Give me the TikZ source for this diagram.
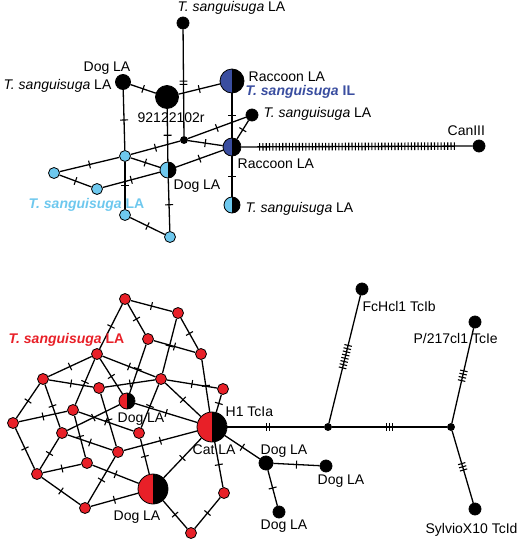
\documentclass[tikz,border=0pt]{standalone}
\usepackage{fontspec}
\setmainfont{Liberation Sans}
\usetikzlibrary{decorations.markings}
\definecolor{tsred}{RGB}{232,32,40}
\definecolor{tsblue}{RGB}{58,78,160}
\definecolor{tssky}{RGB}{110,200,238}

\begin{document}
\begin{tikzpicture}[x=1pt, y=-1pt, line width=1.3pt,
      font=\fontsize{14}{16}\selectfont,
      vertex/.style={circle, draw=black, line width=0.8pt, inner sep=0pt, minimum size=#1},
      half/.style 2 args={vertex=#1, path picture={
          \fill[#2] (path picture bounding box.south west) rectangle (path picture bounding box.north);
          \fill[black] (path picture bounding box.south) rectangle (path picture bounding box.north east);}},
      lbl/.style={inner sep=0pt, anchor=base west},
      mut/.style={postaction={decorate, decoration={markings, mark=at position #1 with {\draw[line width=1.1pt] (0pt,-4pt) -- (0pt,4pt);}}}},
      mut/.default=0.5,
      muts/.style 2 args={postaction={decorate, decoration={markings, mark=at position #1 with {\foreach \k in {1,...,#2} {\draw[line width=1.1pt] ({(\k-(#2+1)/2)*3.3pt},-3.8pt) -- ({(\k-(#2+1)/2)*3.3pt},3.8pt);}}}}}]

\useasboundingbox (0,0) rectangle (520,541);

\node[vertex=12pt, fill=black] (t1) at (183,23) {};
\node[vertex=15pt, fill=black] (dogt) at (123,82) {};
\node[vertex=23pt, fill=black] (big) at (167,97) {};
\node[half={24pt}{tsblue}] (racil) at (232,81) {};
\node[vertex=12pt, fill=black] (tsr) at (252,115) {};
\node[vertex=7pt, fill=black] (jt) at (184,140) {};
\node[half={18pt}{tsblue}] (racla) at (232,147) {};
\node[vertex=12pt, fill=black] (can) at (479,146) {};
\node[half={16pt}{tssky}] (tsb) at (232,205) {};
\node[half={16pt}{tssky}] (dogm) at (168,170) {};
\node[vertex=11pt, fill=tssky] (sa) at (125,156) {};
\node[vertex=11pt, fill=tssky] (sb) at (54,173) {};
\node[vertex=11pt, fill=tssky] (sc) at (97,189) {};
\node[vertex=11pt, fill=tssky] (sd) at (125,215) {};
\node[vertex=11pt, fill=tssky] (se) at (170,237) {};

\draw[muts={0.5}{2}] (t1) -- (jt);
\draw[mut] (dogt) -- (big);
\draw[mut] (big) -- (racil);
\draw[mut] (dogt) -- (sa);
\draw[mut] (big) -- (dogm);
\draw[mut] (racil) -- (racla);
\draw[mut] (racla) -- (tsr);
\draw[mut] (jt) -- (racla);
\draw[mut] (sa) -- (jt);
\draw[mut] (jt) -- (tsr);
\draw[muts={0.5}{60}] (racla) -- (can);
\draw[mut] (sa) -- (sb);
\draw[mut] (sb) -- (sc);
\draw[mut] (sc) -- (dogm);
\draw[mut] (sa) -- (dogm);
\draw[mut] (sa) -- (sd);
\draw[mut] (sd) -- (se);
\draw[mut] (se) -- (dogm);
\draw[mut] (dogm) -- (racla);
\draw[mut] (racla) -- (tsb);

\node[lbl] (lt1) at (177,11) {\textit{T. sanguisuga} LA};
\node[lbl] (ldogt) at (83,71) {Dog LA};
\node[lbl, anchor=base east] (ldogt2) at (112,89) {\textit{T. sanguisuga} LA};
\node[lbl] (lbig) at (137,122) {92122102r};
\node[lbl] (lracil) at (248,81) {Raccoon LA};
\node[lbl, text=tsblue] (ltsil) at (245,95) {\textbf{\textit{T. sanguisuga} IL}};
\node[lbl] (ltsr) at (263,117) {\textit{T. sanguisuga} LA};
\node[lbl] (lcan) at (447,135) {CanIII};
\node[lbl] (lracla) at (237,168) {Raccoon LA};
\node[lbl] (ltsb) at (245,212) {\textit{T. sanguisuga} LA};
\node[lbl] (ldogm) at (173,189) {Dog LA};
\node[lbl, text=tssky] (lsky) at (28,208) {\textbf{\textit{T. sanguisuga} LA}};

\node[vertex=11pt, fill=tsred] (r1) at (125,299) {};
\node[vertex=11pt, fill=tsred] (r2) at (178,313) {};
\node[vertex=11pt, fill=tsred] (r3) at (148,339) {};
\node[vertex=11pt, fill=tsred] (r4) at (201,354) {};
\node[vertex=11pt, fill=tsred] (r5) at (97,354) {};
\node[vertex=11pt, fill=tsred] (r6) at (43,379) {};
\node[vertex=11pt, fill=tsred] (r7) at (99,388) {};
\node[vertex=11pt, fill=tsred] (r8) at (161,379) {};
\node[vertex=11pt, fill=tsred] (r9) at (223,389) {};
\node[vertex=11pt, fill=tsred] (r10) at (73,410) {};
\node[vertex=11pt, fill=tsred] (r11) at (13,423) {};
\node[vertex=11pt, fill=tsred] (r12) at (62,433) {};
\node[vertex=11pt, fill=tsred] (r13) at (139,433) {};
\node[vertex=11pt, fill=tsred] (r14) at (118,452) {};
\node[vertex=11pt, fill=tsred] (r15) at (87,463) {};
\node[vertex=11pt, fill=tsred] (r16) at (37,474) {};
\node[vertex=11pt, fill=tsred] (r17) at (85,508) {};
\node[vertex=11pt, fill=tsred] (r18) at (224,493) {};
\node[vertex=11pt, fill=tsred] (r19) at (191,533) {};
\node[half={16pt}{tsred}] (dgs) at (127,401) {};
\node[half={30pt}{tsred}] (cat) at (212,427) {};
\node[half={30pt}{tsred}] (dgb) at (153,489) {};

\draw[mut] (r1) -- (r2);
\draw[mut] (r1) -- (r3);
\draw[mut] (r1) -- (r5);
\draw[mut] (r2) -- (r4);
\draw[mut] (r3) -- (r4);
\draw[mut] (r2) -- (r8);
\draw[mut] (r3) -- (dgs);
\draw[mut] (r4) -- (cat);
\draw[mut] (r5) -- (r6);
\draw[mut] (r5) -- (r8);
\draw[mut] (r5) -- (dgs);
\draw[mut] (r5) -- (r10);
\draw[mut] (r6) -- (r7);
\draw[mut] (r6) -- (r11);
\draw[mut] (r6) -- (r12);
\draw[mut] (r7) -- (r8);
\draw[mut] (r7) -- (r14);
\draw[mut] (r8) -- (r9);
\draw[mut] (r8) -- (cat);
\draw[mut] (r8) -- (r13);
\draw[mut] (r9) -- (cat);
\draw[mut] (dgs) -- (cat);
\draw[mut] (r10) -- (r11);
\draw[mut] (r10) -- (r13);
\draw[mut] (r10) -- (r15);
\draw[mut] (r11) -- (r16);
\draw[mut] (r12) -- (r14);
\draw[mut] (r12) -- (r16);
\draw[mut] (r12) -- (dgs);
\draw[mut] (r13) -- (dgb);
\draw[mut] (r14) -- (cat);
\draw[mut] (r14) -- (r17);
\draw[mut] (r15) -- (r16);
\draw[mut] (r15) -- (dgb);
\draw[mut] (r16) -- (r17);
\draw[mut] (r17) -- (dgb);
\draw[mut] (dgb) -- (cat);
\draw[mut] (dgb) -- (r19);
\draw[mut] (r19) -- (r18);
\draw[mut] (r18) -- (cat);

\node[vertex=7pt, fill=black] (j1) at (328,427) {};
\node[vertex=7pt, fill=black] (j2) at (451,427) {};
\node[vertex=12pt, fill=black] (fc) at (362,289) {};
\node[vertex=12pt, fill=black] (p217) at (475,322) {};
\node[vertex=12pt, fill=black] (syl) at (475,509) {};
\node[vertex=14pt, fill=black] (dg1) at (266,463) {};
\node[vertex=12pt, fill=black] (dg2) at (326,466) {};
\node[vertex=12pt, fill=black] (dg3) at (279,512) {};

\draw[muts={0.42}{2}] (cat) -- (j1);
\draw[muts={0.5}{3}] (j1) -- (j2);
\draw[muts={0.52}{8}] (j1) -- (fc);
\draw[muts={0.5}{4}] (j2) -- (p217);
\draw[muts={0.5}{3}] (j2) -- (syl);
\draw[mut] (cat) -- (dg1);
\draw[mut] (dg1) -- (dg2);
\draw[mut] (dg1) -- (dg3);

\node[lbl, text=tsred] (lred) at (8,343) {\textbf{\textit{T. sanguisuga} LA}};
\node[lbl] (ldgs) at (117,422) {Dog LA};
\node[lbl] (lcat) at (192,454) {Cat LA};
\node[lbl] (lh1) at (225,416) {H1 TcIa};
\node[lbl] (ldgb) at (113,520) {Dog LA};
\node[lbl] (ldg1) at (260,454) {Dog LA};
\node[lbl] (ldg2) at (317,484) {Dog LA};
\node[lbl] (ldg3) at (260,529) {Dog LA};
\node[lbl] (lfc) at (362,311) {FcHcl1 TcIb};
\node[lbl] (lp217) at (413,343) {P/217cl1 TcIe};
\node[lbl] (lsyl) at (425,533) {SylvioX10 TcId};

\end{tikzpicture}
\end{document}
